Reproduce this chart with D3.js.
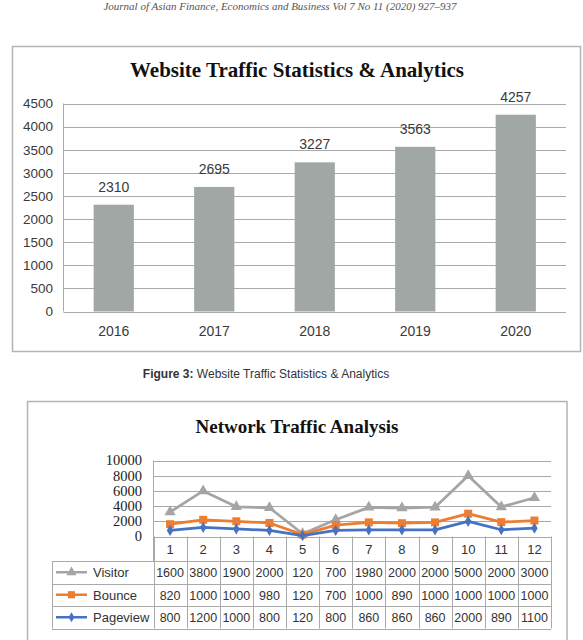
<!DOCTYPE html>
<html>
<head>
<meta charset="utf-8">
<script src="https://cdn.jsdelivr.net/npm/d3@7"></script>
<style>
  body { margin: 0; background: #fff; }
  svg { display: block; }
</style>
</head>
<body>
<svg id="page"></svg>
<script>
// figure 3 data
const years = ["2016", "2017", "2018", "2019", "2020"],
  traffic = [2310, 2695, 3227, 3563, 4257],
  trafficTicks = [0, 500, 1000, 1500, 2000, 2500, 3000, 3500, 4000, 4500];

// network traffic data (stacked line in the original)
const months = ["1", "2", "3", "4", "5", "6", "7", "8", "9", "10", "11", "12"],
  visitor = [1600, 3800, 1900, 2000, 120, 700, 1980, 2000, 2000, 5000, 2000, 3000],
  bounce = [820, 1000, 1000, 980, 120, 700, 1000, 890, 1000, 1000, 1000, 1000],
  pageview = [800, 1200, 1000, 800, 120, 800, 860, 860, 860, 2000, 890, 1100],
  netTicks = [0, 2000, 4000, 6000, 8000, 10000];

const WIDTH = 583,
  HEIGHT = 640,
  GRID = "#a9a9a9",
  FRAME = "#b4b4b4",
  SANS = "'Liberation Sans', Arial, sans-serif",
  SERIF = "'Liberation Serif', 'Times New Roman', serif";

const svg = d3.select("#page").attr("width", WIDTH).attr("height", HEIGHT);

// running header
svg.append("text")
  .attr("x", 280).attr("y", 10)
  .attr("text-anchor", "middle")
  .attr("font-family", SERIF)
  .attr("font-style", "italic")
  .attr("font-size", 11)
  .attr("fill", "#555")
  .text("Journal of Asian Finance, Economics and Business Vol 7 No 11 (2020) 927–937");

// ---------- Figure 3: bar chart ----------
const barChart = svg.append("g");

barChart.append("rect")
  .attr("x", 12.5).attr("y", 46.5)
  .attr("width", 568).attr("height", 305)
  .attr("fill", "#fff")
  .attr("stroke", FRAME).attr("stroke-width", 1.5);

barChart.append("text")
  .attr("x", 297).attr("y", 77)
  .attr("text-anchor", "middle")
  .attr("font-family", SERIF)
  .attr("font-weight", "bold")
  .attr("font-size", 21)
  .attr("fill", "#111")
  .text("Website Traffic Statistics & Analytics");

const x1 = d3.scaleBand().domain(years).range([63.5, 566]).paddingInner(0.6).paddingOuter(0.3);
const y1 = d3.scaleLinear().domain([0, 4500]).range([311.5, 103.5]);

barChart.append("g")
  .selectAll("line")
  .data(trafficTicks)
  .join("line")
  .attr("x1", 63.5).attr("x2", 566)
  .attr("y1", d => Math.round(y1(d)) + 0.5)
  .attr("y2", d => Math.round(y1(d)) + 0.5)
  .attr("stroke", GRID);

barChart.append("line")
  .attr("x1", 63.5).attr("x2", 63.5)
  .attr("y1", y1(4500)).attr("y2", y1(0))
  .attr("stroke", GRID);

barChart.append("g")
  .selectAll("text")
  .data(trafficTicks)
  .join("text")
  .attr("x", 53)
  .attr("y", d => y1(d))
  .attr("dy", "0.36em")
  .attr("text-anchor", "end")
  .attr("font-family", SANS)
  .attr("font-size", 13.5)
  .attr("fill", "#3a3a3a")
  .text(d => d);

barChart.append("g")
  .selectAll("rect")
  .data(traffic)
  .join("rect")
  .attr("x", (d, i) => x1(years[i]))
  .attr("width", x1.bandwidth())
  .attr("y", d => y1(d))
  .attr("height", d => y1(0) - y1(d))
  .attr("fill", "#a0a7a5");

barChart.append("g")
  .selectAll("text")
  .data(traffic)
  .join("text")
  .attr("x", (d, i) => x1(years[i]) + x1.bandwidth() / 2)
  .attr("y", d => y1(d) - 13)
  .attr("text-anchor", "middle")
  .attr("font-family", SANS)
  .attr("font-size", 14)
  .attr("fill", "#3a3a3a")
  .text(d => d);

barChart.append("g")
  .selectAll("text")
  .data(years)
  .join("text")
  .attr("x", d => x1(d) + x1.bandwidth() / 2)
  .attr("y", 336)
  .attr("text-anchor", "middle")
  .attr("font-family", SANS)
  .attr("font-size", 14)
  .attr("fill", "#3a3a3a")
  .text(d => d);

// caption
const cap = svg.append("text")
  .attr("x", 266).attr("y", 378)
  .attr("text-anchor", "middle")
  .attr("font-family", SANS)
  .attr("font-size", 12)
  .attr("fill", "#333");
cap.append("tspan").attr("font-weight", "bold").text("Figure 3:");
cap.append("tspan").text(" Website Traffic Statistics & Analytics");

// ---------- Network Traffic Analysis ----------
const netChart = svg.append("g");

netChart.append("rect")
  .attr("x", 27.5).attr("y", 401.5)
  .attr("width", 539.5).attr("height", 260)
  .attr("fill", "#fff")
  .attr("stroke", FRAME).attr("stroke-width", 1.5);

netChart.append("text")
  .attr("x", 297).attr("y", 432.5)
  .attr("text-anchor", "middle")
  .attr("font-family", SERIF)
  .attr("font-weight", "bold")
  .attr("font-size", 19)
  .attr("fill", "#111")
  .text("Network Traffic Analysis");

const x2 = d3.scaleBand().domain(months).range([153.5, 551]);
const y2 = d3.scaleLinear().domain([0, 10000]).range([536.5, 460.5]);

netChart.append("g")
  .selectAll("line")
  .data(netTicks)
  .join("line")
  .attr("x1", 153.5).attr("x2", 551)
  .attr("y1", d => Math.round(y2(d)) + 0.5)
  .attr("y2", d => Math.round(y2(d)) + 0.5)
  .attr("stroke", GRID);

netChart.append("line")
  .attr("x1", 153.5).attr("x2", 153.5)
  .attr("y1", y2(10000)).attr("y2", 561)
  .attr("stroke", GRID);

netChart.append("g")
  .selectAll("text")
  .data(netTicks)
  .join("text")
  .attr("x", 142)
  .attr("y", d => y2(d))
  .attr("dy", "0.34em")
  .attr("text-anchor", "end")
  .attr("font-family", SERIF)
  .attr("font-size", 14.5)
  .attr("fill", "#222")
  .text(d => d);

// data table
const rowTop = [561, 583.5, 606],
  rowH = 22.5;

// header cell borders
netChart.append("g")
  .selectAll("line")
  .data(months.concat(["end"]))
  .join("line")
  .attr("x1", (d, i) => Math.round(x2.range()[0] + i * x2.bandwidth()) + 0.5)
  .attr("x2", (d, i) => Math.round(x2.range()[0] + i * x2.bandwidth()) + 0.5)
  .attr("y1", 536.5).attr("y2", 628.5)
  .attr("stroke", GRID);

[561, 583.5, 606, 628.5].forEach(yy => {
  netChart.append("line")
    .attr("x1", 52).attr("x2", 551)
    .attr("y1", Math.round(yy) + 0.5).attr("y2", Math.round(yy) + 0.5)
    .attr("stroke", GRID);
});
netChart.append("line")
  .attr("x1", 52.5).attr("x2", 52.5)
  .attr("y1", 561.5).attr("y2", 628.5)
  .attr("stroke", GRID);

netChart.append("g")
  .selectAll("text")
  .data(months)
  .join("text")
  .attr("x", d => x2(d) + x2.bandwidth() / 2)
  .attr("y", 554)
  .attr("text-anchor", "middle")
  .attr("font-family", SANS)
  .attr("font-size", 13)
  .attr("fill", "#333")
  .text(d => d);

const seriesInfo = [
  { name: "Visitor", values: visitor, color: "#a5a5a5", symbol: d3.symbolTriangle, size: 55 },
  { name: "Bounce", values: bounce, color: "#ed7d31", symbol: d3.symbolSquare, size: 64 },
  { name: "Pageview", values: pageview, color: "#4472c4", symbol: d3.symbolDiamond, size: 36 }
];

// table rows: legend key + values
seriesInfo.forEach((s, r) => {
  const cy = rowTop[r] + rowH / 2;
  const row = netChart.append("g");
  row.append("line")
    .attr("x1", 56).attr("x2", 87)
    .attr("y1", cy).attr("y2", cy)
    .attr("stroke", s.color).attr("stroke-width", 2.5);
  row.append("path")
    .attr("transform", `translate(71.5,${cy})`)
    .attr("d", d3.symbol().type(s.symbol).size(s.size * 0.8)())
    .attr("fill", s.color);
  row.append("text")
    .attr("x", 93).attr("y", rowTop[r] + 16)
    .attr("font-family", SANS)
    .attr("font-size", 13)
    .attr("fill", "#333")
    .text(s.name);
  row.selectAll("text.val")
    .data(s.values)
    .join("text")
    .attr("class", "val")
    .attr("x", (d, i) => x2(months[i]) + x2.bandwidth() / 2)
    .attr("y", rowTop[r] + 16)
    .attr("text-anchor", "middle")
    .attr("font-family", SANS)
    .attr("font-size", 12.5)
    .attr("fill", "#333")
    .text(d => d);
});

// stacked lines (Pageview at the bottom, then Bounce, then Visitor)
const table = months.map((m, i) => ({ month: m, Pageview: pageview[i], Bounce: bounce[i], Visitor: visitor[i] }));
const stacked = d3.stack().keys(["Pageview", "Bounce", "Visitor"])(table);

const line = d3.line()
  .x((d, i) => x2(months[i]) + x2.bandwidth() / 2)
  .y(d => y2(d[1]));

const drawOrder = ["Visitor", "Bounce", "Pageview"];
drawOrder.forEach(key => {
  const layer = stacked.find(l => l.key === key),
    s = seriesInfo.find(v => v.name === key),
    g = netChart.append("g");
  g.append("path")
    .datum(layer)
    .attr("d", line)
    .attr("fill", "none")
    .attr("stroke", s.color)
    .attr("stroke-width", 2.8)
    .attr("stroke-linejoin", "round");
  g.selectAll("path.mark")
    .data(layer)
    .join("path")
    .attr("class", "mark")
    .attr("transform", (d, i) => `translate(${x2(months[i]) + x2.bandwidth() / 2},${y2(d[1])})`)
    .attr("d", d3.symbol().type(s.symbol).size(s.size))
    .attr("fill", s.color);
});
</script>
</body>
</html>
